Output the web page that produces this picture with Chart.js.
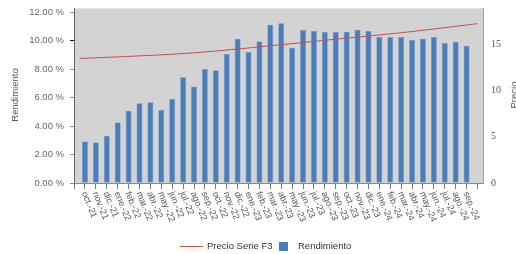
<!DOCTYPE html>
<html>
<head>
<meta charset="utf-8">
<script src="https://cdn.jsdelivr.net/npm/chart.js@4.4.1/dist/chart.umd.min.js"></script>
<style>
  html, body { margin: 0; padding: 0; background: #fff; }
  #wrap { width: 516px; height: 254px; }
</style>
</head>
<body>
<div id="wrap"><canvas id="chart" width="516" height="254"></canvas></div>
<script>
// Data
const months = [
    'oct.-21', 'nov.-21', 'dic.-21', 'ene.-22', 'feb.-22', 'mar.-22', 'abr.-22', 'may.-22', 'jun.-22',
    'jul.-22', 'ago.-22', 'sep.-22', 'oct.-22', 'nov.-22', 'dic.-22', 'ene.-23', 'feb.-23', 'mar.-23',
    'abr.-23', 'may.-23', 'jun.-23', 'jul.-23', 'ago.-23', 'sep.-23', 'oct.-23', 'nov.-23', 'dic.-23',
    'ene.-24', 'feb.-24', 'mar.-24', 'abr.-24', 'may.-24', 'jun.-24', 'jul.-24', 'ago.-24', 'sep.-24'
];
const rendimiento = [
    2.92, 2.85, 3.32, 4.26, 5.08, 5.60, 5.67, 5.13, 5.91,
    7.44, 6.78, 8.02, 7.93, 9.06, 10.14, 9.20, 9.95, 11.13,
    11.22, 9.51, 10.75, 10.68, 10.61, 10.61, 10.63, 10.78, 10.68,
    10.26, 10.26, 10.26, 10.05, 10.14, 10.26, 9.84, 9.93, 9.65
];
// Price series (secondary axis), month index -> price
const priceMonth = [-0.5, 8, 12, 17.5, 23.5, 29.5, 36];
const priceValues = [13.45, 13.9, 14.25, 14.88, 15.59, 16.29, 17.21];

const pctTicks = [0, 2, 4, 6, 8, 10, 12];
const priceTicks = [0, 5, 10, 15];

const FONT = '"Liberation Sans", Arial, sans-serif';

// Background, rotated month labels, axis titles and legend
const decorPlugin = {
    id: 'decor',
    beforeDraw(chart) {
        const { ctx, chartArea: a } = chart;
        ctx.save();
        ctx.fillStyle = '#d3d3d3';
        ctx.fillRect(a.left, a.top, a.right - a.left, a.bottom - a.top);
        ctx.strokeStyle = '#e4e4e4';
        ctx.lineWidth = 1;
        ctx.beginPath();
        ctx.moveTo(a.left, a.top + 0.5);
        ctx.lineTo(a.right, a.top + 0.5);
        ctx.stroke();
        ctx.restore();
    },
    afterDraw(chart) {
        const { ctx } = chart;
        const x = chart.scales.x;

        // month labels, reading downwards to the right
        ctx.save();
        ctx.font = '9px ' + FONT;
        ctx.fillStyle = '#555';
        ctx.textAlign = 'left';
        ctx.textBaseline = 'middle';
        months.forEach((m, i) => {
            const px = x.getPixelForValue(i);
            ctx.save();
            ctx.translate(px - 1, 192);
            ctx.rotate(68 * Math.PI / 180);
            ctx.fillText(m, 0, 0);
            ctx.restore();
        });
        ctx.restore();

        // axis titles
        ctx.save();
        ctx.font = '9.5px ' + FONT;
        ctx.fillStyle = '#555';
        ctx.textAlign = 'center';
        ctx.textBaseline = 'middle';
        ctx.translate(15, 95);
        ctx.rotate(-Math.PI / 2);
        ctx.fillText('Rendimiento', 0, 0);
        ctx.restore();

        ctx.save();
        ctx.font = '9.5px ' + FONT;
        ctx.fillStyle = '#555';
        ctx.textAlign = 'center';
        ctx.textBaseline = 'middle';
        ctx.translate(514, 95);
        ctx.rotate(-Math.PI / 2);
        ctx.fillText('Precio', 0, 0);
        ctx.restore();

        // legend
        const line = chart.data.datasets[0];
        const bars = chart.data.datasets[1];
        ctx.save();
        ctx.font = '9.5px ' + FONT;
        ctx.fillStyle = '#333';
        ctx.textBaseline = 'middle';
        ctx.strokeStyle = line.borderColor;
        ctx.lineWidth = 1;
        ctx.beginPath();
        ctx.moveTo(180, 246.5);
        ctx.lineTo(203, 246.5);
        ctx.stroke();
        ctx.fillText(line.label, 207, 246);
        ctx.fillStyle = bars.backgroundColor;
        ctx.fillRect(279, 242, 9, 9);
        ctx.fillStyle = '#333';
        ctx.fillText(bars.label, 298, 246);
        ctx.restore();
    }
};

const ctx = document.getElementById('chart').getContext('2d');
new Chart(ctx, {
    type: 'bar',
    data: {
        datasets: [
            {
                type: 'line',
                label: 'Precio Serie F3',
                data: priceMonth.map((m, i) => ({ x: m, y: priceValues[i] })),
                xAxisID: 'x',
                yAxisID: 'y1',
                borderColor: '#c8504f',
                borderWidth: 1,
                pointRadius: 0,
                cubicInterpolationMode: 'monotone',
                order: 0
            },
            {
                label: 'Rendimiento',
                data: rendimiento.map((v, i) => ({ x: i, y: v })),
                xAxisID: 'x',
                yAxisID: 'y',
                backgroundColor: '#4a7ebb',
                borderColor: '#6a96cc',
                borderWidth: 0.6,
                categoryPercentage: 1,
                barPercentage: 0.54,
                order: 1
            }
        ]
    },
    options: {
        responsive: false,
        animation: false,
        devicePixelRatio: 1,
        layout: { padding: { top: 8, left: 0, right: 0, bottom: 0 } },
        plugins: {
            legend: { display: false },
            tooltip: { enabled: false }
        },
        scales: {
            x: {
                type: 'linear',
                min: -0.5,
                max: 36,
                afterBuildTicks: s => {
                    s.ticks = Array.from({ length: months.length + 1 }, (_, i) => ({ value: i - 0.5 }));
                },
                afterFit: s => { s.height = 71; },
                border: { color: '#8a8a8a', width: 1 },
                grid: { drawOnChartArea: false, tickLength: 6, tickColor: '#7a7a7a' },
                ticks: { display: false }
            },
            y: {
                position: 'left',
                min: 0,
                max: 12.3,
                afterBuildTicks: s => { s.ticks = pctTicks.map(v => ({ value: v })); },
                afterFit: s => { s.width = 74; s.paddingTop = 0; s.paddingBottom = 0; },
                border: { color: '#6a6a6a', width: 1 },
                grid: {
                    drawOnChartArea: false,
                    tickLength: 4,
                    tickColor: c => (c.tick && c.tick.value === 10 ? '#111' : '#8a8a8a')
                },
                ticks: {
                    padding: 6,
                    color: '#666',
                    font: { family: FONT, size: 9.5 },
                    callback: v => v.toFixed(2) + ' %'
                }
            },
            y1: {
                position: 'right',
                min: 0,
                max: 18.9,
                afterBuildTicks: s => { s.ticks = priceTicks.map(v => ({ value: v })); },
                afterFit: s => { s.width = 33; s.paddingTop = 0; s.paddingBottom = 0; },
                border: { color: '#a0a0a0', width: 1 },
                grid: { drawOnChartArea: false, drawTicks: false },
                ticks: {
                    padding: 8,
                    color: '#555',
                    font: { family: '"Liberation Serif", serif', size: 10 }
                }
            }
        }
    },
    plugins: [decorPlugin]
});
</script>
</body>
</html>
